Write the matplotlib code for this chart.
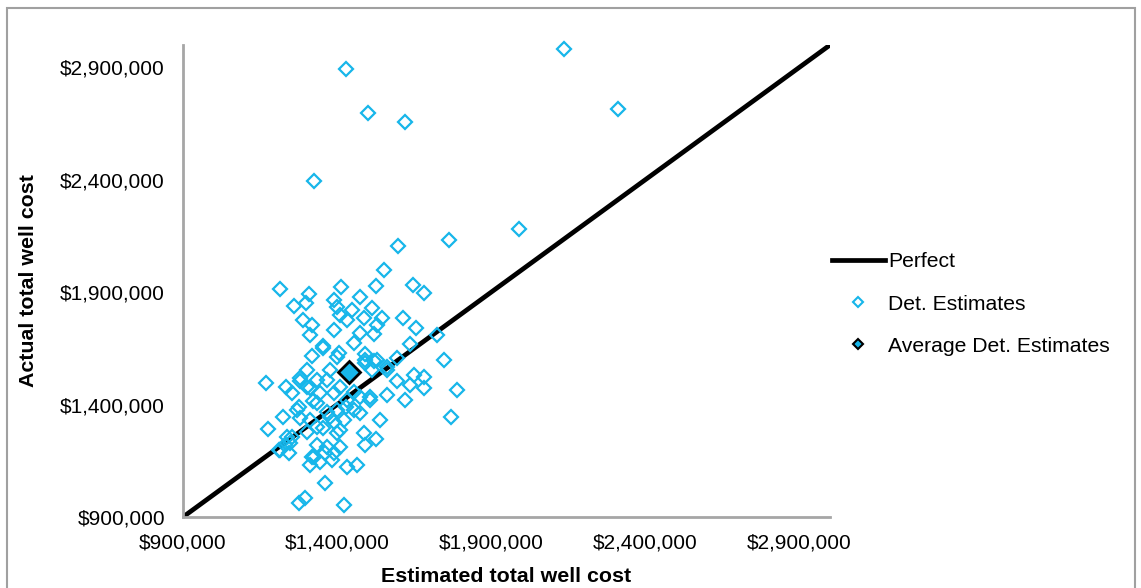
import numpy as np
import matplotlib.pyplot as plt
from matplotlib.lines import Line2D
from matplotlib.patches import Rectangle
from matplotlib.ticker import FuncFormatter

plt.rcParams['font.family'] = ['Liberation Sans', 'DejaVu Sans']

# estimated vs actual well cost ($)
est_cost = [2136000, 1430000, 2312000, 1499000, 1619000, 1326000, 1990000,
            1763000, 1597000, 1554000, 1216000, 1413000, 1528000, 1646000, 1682000,
            1308000, 1391000, 1476000, 1261000, 1300000, 1400000, 1450000, 1514000,
            1408000, 1289000, 1319000, 1433000, 1487000, 1546000, 1615000, 1530000,
            1389000, 1311000, 1476000, 1519000, 1655000, 1725000, 1454000, 1354000,
            1636000, 1319000, 1405000, 1492000, 1595000, 1747000, 1170000, 1235000,
            1281000, 1313000, 1367000, 1492000, 1519000, 1563000, 1595000, 1649000,
            1682000, 1638000, 1682000, 1788000, 1563000, 1622000, 1254000, 1322000,
            1389000, 1476000, 1508000, 1270000, 1224000, 1367000, 1430000, 1476000,
            1541000, 1771000, 1177000, 1281000, 1335000, 1389000, 1411000, 1237000,
            1302000, 1487000, 1525000, 1248000, 1216000, 1243000, 1367000, 1389000,
            1492000, 1324000, 1346000, 1313000, 1433000, 1465000, 1362000, 1275000,
            1297000, 1421000,
            1356000, 1302000, 1281000, 1335000, 1378000, 1400000, 1492000, 1514000,
            1530000, 1563000, 1302000, 1346000, 1411000, 1454000, 1433000, 1508000,
            1275000, 1335000, 1400000, 1454000, 1421000, 1378000, 1313000, 1356000,
            1400000, 1411000, 1335000, 1362000, 1319000, 1384000, 1254000, 1232000,
            1210000]
act_cost = [2984000, 2895000, 2717000, 2699000, 2659000, 2397000, 2183000,
            2131000, 2104000, 1997000, 1916000, 1923000, 1929000, 1932000, 1896000,
            1892000, 1867000, 1877000, 1840000, 1852000, 1834000, 1819000, 1830000,
            1800000, 1777000, 1755000, 1777000, 1785000, 1785000, 1785000, 1755000,
            1733000, 1711000, 1718000, 1714000, 1739000, 1711000, 1674000, 1659000,
            1671000, 1617000, 1629000, 1626000, 1607000, 1599000, 1498000, 1478000,
            1503000, 1473000, 1510000, 1585000, 1592000, 1555000, 1503000, 1532000,
            1525000, 1488000, 1473000, 1463000, 1443000, 1421000, 1451000, 1414000,
            1451000, 1436000, 1421000, 1377000, 1344000, 1369000, 1391000, 1362000,
            1332000, 1347000, 1293000, 1340000, 1302000, 1324000, 1287000, 1258000,
            1280000, 1273000, 1246000, 1228000, 1198000, 1184000, 1213000, 1184000,
            1221000, 1169000, 1146000, 1132000, 1124000, 1132000, 1050000, 961000,
            983000, 953000,
            1651000, 1555000, 1518000, 1510000, 1555000, 1614000, 1599000, 1555000,
            1599000, 1569000, 1480000, 1451000, 1480000, 1458000, 1421000, 1436000,
            1391000, 1406000, 1377000, 1377000, 1332000, 1347000, 1332000, 1295000,
            1273000, 1213000, 1221000, 1184000, 1169000, 1154000, 1258000, 1221000,
            1198000]

avg_est = [1438000]
avg_act = [1547000]

perfect = [900000, 3000000]

cyan = '#17B6EA'

fig = plt.figure(figsize=(11.41, 5.88), dpi=100)
ax = fig.add_axes([183/1141, 1 - 517/588, (830 - 183)/1141, (517 - 45)/588])

ax.plot(perfect, perfect, color='black', lw=3.4, solid_capstyle='butt', zorder=2)
ax.plot(est_cost, act_cost, ls='none', marker='D', ms=7, mfc='none',
        mec=cyan, mew=1.6, zorder=3, clip_on=False)
ax.plot(avg_est, avg_act, ls='none', marker='D', ms=11, mfc=cyan,
        mec='black', mew=2, zorder=4)

ax.set_xlim(900000, 3000000)
ax.set_ylim(900000, 3000000)
ticks = [900000, 1400000, 1900000, 2400000, 2900000]
ax.set_xticks(ticks)
ax.set_yticks(ticks)
fmt = FuncFormatter(lambda v, p: '${:,.0f}'.format(v))
ax.xaxis.set_major_formatter(fmt)
ax.yaxis.set_major_formatter(fmt)
ax.tick_params(length=0, labelsize=15)
ax.tick_params(axis='x', pad=12)
ax.tick_params(axis='y', pad=13)

for s in ['top', 'right']:
    ax.spines[s].set_visible(False)
for s in ['left', 'bottom']:
    ax.spines[s].set_color('#a6a6a6')
    ax.spines[s].set_linewidth(2)

ax.set_xlabel('Estimated total well cost', fontsize=15.4, fontweight='bold', labelpad=10)
ax.set_ylabel('Actual total well cost', fontsize=15.4, fontweight='bold', labelpad=16)

handles = [
    Line2D([], [], color='black', lw=3.4),
    Line2D([], [], ls='none', marker='D', ms=5, mfc='none', mec=cyan, mew=1.5),
    Line2D([], [], ls='none', marker='D', ms=5, mfc=cyan, mec='black', mew=1.5),
]
labels = ['Perfect', 'Det. Estimates', 'Average Det. Estimates']
fig.legend(handles, labels, loc='center left', bbox_to_anchor=(832/1141, 1 - 304/588),
           frameon=False, fontsize=15.2, handlelength=2.5, handletextpad=0.15,
           labelspacing=1.1, borderpad=0, borderaxespad=0)

# outer chart frame
fig.patches.append(Rectangle((7/1141, -0.1), 1128/1141, 1.1 - 8/588,
                             transform=fig.transFigure, fill=False,
                             edgecolor='#a0a0a0', lw=1.5))

fig.savefig('out.png', dpi=100)
